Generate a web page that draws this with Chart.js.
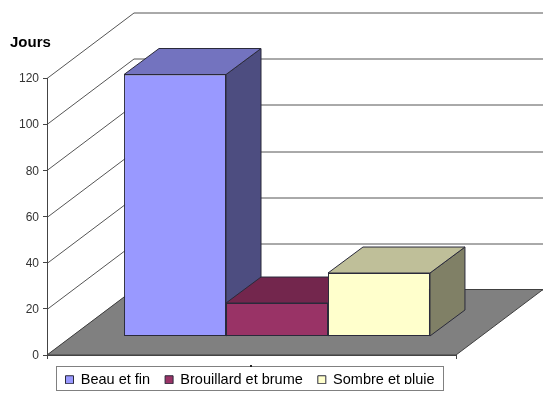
<!DOCTYPE html>
<html>
<head>
<meta charset="utf-8">
<title>Jours</title>
<script src="https://cdn.jsdelivr.net/npm/chart.js@4/dist/chart.umd.min.js"></script>
<style>
  html, body { margin: 0; padding: 0; background: #fff; }
  #chart { display: block; }
</style>
</head>
<body>
<div style="width:560px;height:400px"><canvas id="chart" width="560" height="400"></canvas></div>
<script>
const categories = [""];
const seriesNames = ["Beau et fin", "Brouillard et brume", "Sombre et pluie"];
const seriesValues = [[113.5], [14.5], [27.5]];
const frontColors = ["#9999ff", "#993366", "#ffffcc"];
const topColors = ["#7373bf", "#73264d", "#bfbf99"];
const sideColors = ["#4d4d80", "#4d1a33", "#808066"];
const yTicks = [0, 20, 40, 60, 80, 100, 120];

// offset of the back wall and of the bars, for the fake 3d
const wallDepth = { x: 87, y: -65.5 };
const barShift = { x: 25.5, y: -18.5 };
const barDepth = { x: 35, y: -26 };
const edge = "#2a2a3a";

function poly(ctx, pts, fill, stroke) {
  ctx.beginPath();
  pts.forEach((p, i) => (i ? ctx.lineTo(p[0], p[1]) : ctx.moveTo(p[0], p[1])));
  ctx.closePath();
  if (fill) { ctx.fillStyle = fill; ctx.fill(); }
  if (stroke) { ctx.strokeStyle = stroke; ctx.lineWidth = 1; ctx.stroke(); }
}

const box3d = {
  id: "box3d",
  afterLayout(chart) {
    // legend sits in its own frame below the axis
    const lg = chart.legend;
    lg.left = 50.5;
    lg.right = 550;
    lg.top = 357.5;
  },
  beforeDraw(chart) {
    const { ctx, chartArea: a, scales: { y } } = chart;
    ctx.save();
    // walls
    ctx.strokeStyle = "#555";
    ctx.lineWidth = 1;
    yTicks.forEach(v => {
      const py = Math.round(y.getPixelForValue(v)) + 0.5;
      ctx.beginPath();
      ctx.moveTo(a.left, py);
      ctx.lineTo(a.left + wallDepth.x, py + wallDepth.y);
      ctx.lineTo(a.right + wallDepth.x, py + wallDepth.y);
      ctx.stroke();
    });
    // floor
    poly(ctx, [
      [a.left, a.bottom],
      [a.left + wallDepth.x, a.bottom + wallDepth.y],
      [a.right + wallDepth.x, a.bottom + wallDepth.y],
      [a.right, a.bottom]
    ], "#808080", "#404040");
    // legend frame, with the bit of center tick that shows above it
    ctx.fillStyle = "#fff";
    ctx.strokeStyle = "#808080";
    ctx.fillRect(56.5, 366.5, 387, 24);
    ctx.strokeRect(56.5, 366.5, 387, 24);
    ctx.fillStyle = "#222";
    ctx.fillRect(250, 365, 2, 2);
    // Jours label
    ctx.fillStyle = "#000";
    ctx.font = "bold 15px 'Liberation Sans'";
    ctx.textBaseline = "alphabetic";
    ctx.fillText("Jours", 10, 47);
    ctx.restore();
  },
  beforeDatasetsDraw(chart) {
    const ctx = chart.ctx;
    ctx.save();
    ctx.translate(barShift.x, barShift.y);
    // side and top faces, left to right, then the library draws the fronts
    chart.data.datasets.forEach((ds, i) => {
      chart.getDatasetMeta(i).data.forEach(bar => {
        const l = bar.x - bar.width / 2, r = bar.x + bar.width / 2;
        const t = bar.y, b = bar.base;
        poly(ctx, [[r, t], [r + barDepth.x, t + barDepth.y], [r + barDepth.x, b + barDepth.y], [r, b]], sideColors[i], edge);
        poly(ctx, [[l, t], [l + barDepth.x, t + barDepth.y], [r + barDepth.x, t + barDepth.y], [r, t]], topColors[i], edge);
      });
    });
  },
  afterDatasetsDraw(chart) {
    chart.ctx.restore();
  }
};

new Chart(document.getElementById("chart").getContext("2d"), {
  type: "bar",
  plugins: [box3d],
  data: {
    labels: categories,
    datasets: seriesNames.map((name, i) => ({
      label: name,
      data: seriesValues[i],
      backgroundColor: frontColors[i],
      borderColor: edge,
      borderWidth: 1,
      borderSkipped: false,
      categoryPercentage: 0.748,
      barPercentage: 1
    }))
  },
  options: {
    responsive: false,
    animation: false,
    layout: { padding: { left: 0, top: 78, right: 104, bottom: 16 } },
    plugins: {
      tooltip: { enabled: false },
      legend: {
        position: "bottom",
        align: "start",
        maxHeight: 24,
        labels: {
          boxWidth: 8,
          boxHeight: 8,
          padding: 15,
          color: "#000",
          font: { family: "'Liberation Sans'", size: 14.5 }
        }
      }
    },
    scales: {
      x: {
        afterFit(scale) { scale.height = 5; },
        grid: { drawOnChartArea: false, tickLength: 4, color: "#444" },
        border: { color: "#444" },
        ticks: { display: false }
      },
      y: {
        min: 0,
        max: 120,
        afterFit(scale) { scale.width = 47; },
        afterBuildTicks(scale) { scale.ticks = yTicks.map(v => ({ value: v })); },
        grid: { drawOnChartArea: false, tickLength: 4, color: "#444" },
        border: { color: "#444" },
        ticks: {
          color: "#333",
          padding: 4,
          labelOffset: 1,
          font: { family: "'Liberation Sans'", size: 12 }
        }
      }
    }
  }
});
</script>
</body>
</html>
